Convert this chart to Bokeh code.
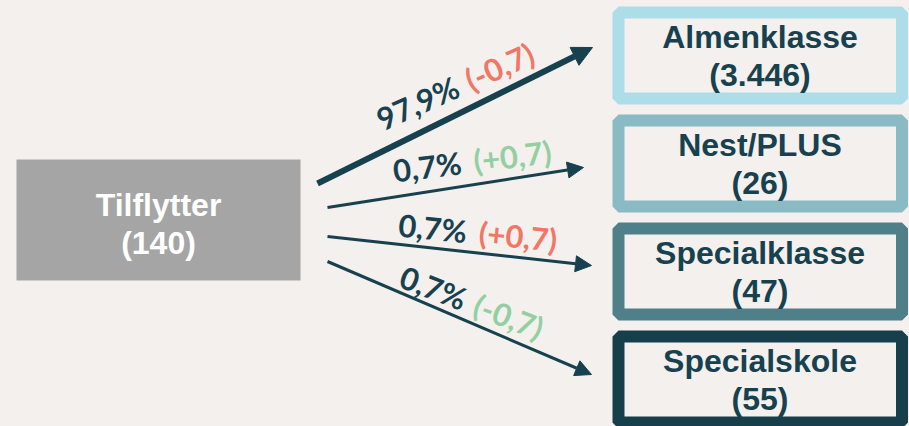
import math
from bokeh.plotting import figure
from bokeh.models import Range1d, Arrow, NormalHead
from bokeh.embed import file_html
from bokeh.resources import INLINE
from bokeh.core.properties import value

# ---------------- data ----------------
source_name = "Tilflytter"
source_count = "140"
targets = ["Almenklasse", "Nest/PLUS", "Specialklasse", "Specialskole"]
target_counts = ["3.446", "26", "47", "55"]
shares = ["97,9%", "0,7%", "0,7%", "0,7%"]
changes = ["(-0,7)", "(+0,7)", "(+0,7)", "(-0,7)"]

# ---------------- styles / layout ----------------
BG = "#f3f0ed"
DARK = "#17414e"
RED = "#f07666"
GREEN = "#93cfa0"
SRC_FILL = "#a5a5a5"
box_colors = ["#acdde8", "#8abac4", "#4f7f89", "#163f4b"]
change_colors = [RED, GREEN, RED, GREEN]

arrow_start = [(317, 183), (327, 207), (327, 236), (327, 261)]
arrow_end = [(592, 47), (583, 167), (591, 265), (591, 374)]
arrow_width = [6, 3, 3, 3]
head_size = [20, 16, 16, 16]

label_start = [(382, 130), (394, 181), (397, 235), (397, 285)]
label_angle_deg = [24, 7, -5.5, -21]
label_gap = [97, 81, 81, 79]
SHIFT = 11  # baseline correction (px)

W, H = 909, 426
p = figure(width=W, height=H, x_range=Range1d(0, W), y_range=Range1d(H, 0),
           output_backend="svg", toolbar_location=None, min_border=0,
           min_border_left=0, min_border_right=0, min_border_top=0, min_border_bottom=0)
p.axis.visible = False
p.grid.visible = False
p.outline_line_color = None
p.background_fill_color = BG
p.border_fill_color = BG

FONT_BOX = value("Liberation Sans")
FONT_LBL = value("Lato")

# source box
p.quad(left=[16], right=[300], top=[159], bottom=[280], fill_color=SRC_FILL, line_color=None)
p.text(x=[158, 158], y=[215 - SHIFT, 253 - SHIFT], text=[source_name, "(" + source_count + ")"],
       text_font=FONT_BOX, text_font_style="bold", text_font_size="32px",
       text_color="white", text_align="center", text_baseline="alphabetic")

# target boxes
for i, (name, cnt) in enumerate(zip(targets, target_counts)):
    top = 6 + 108 * i
    p.quad(left=[618], right=[901.5], top=[top + 6], bottom=[top + 92],
           fill_color=BG, line_color=box_colors[i], line_width=12)
    p.text(x=[759.5, 759.5], y=[top + 41 - SHIFT, top + 79 - SHIFT], text=[name, "(" + cnt + ")"],
           text_font=FONT_BOX, text_font_style="bold", text_font_size="32px",
           text_color=DARK, text_align="center", text_baseline="alphabetic")

# arrows
for i in range(4):
    (xs, ys), (xe, ye) = arrow_start[i], arrow_end[i]
    p.add_layout(Arrow(end=NormalHead(size=head_size[i], fill_color=DARK, line_color=DARK, line_width=1),
                       x_start=xs, y_start=ys, x_end=xe, y_end=ye,
                       line_width=arrow_width[i], line_color=DARK))

# labels
for i in range(4):
    a = math.radians(label_angle_deg[i])
    x0, y0 = label_start[i]
    x0 -= SHIFT * math.sin(a)
    y0 -= SHIFT * math.cos(a)
    x1 = x0 + label_gap[i] * math.cos(a)
    y1 = y0 - label_gap[i] * math.sin(a)
    p.text(x=[x0], y=[y0], text=[shares[i]], angle=a,
           text_font=FONT_LBL, text_font_style="bold", text_font_size="31px",
           text_color=DARK, text_align="left", text_baseline="alphabetic")
    p.text(x=[x1], y=[y1], text=[changes[i]], angle=a,
           text_font=FONT_LBL, text_font_style="bold", text_font_size="31px",
           text_color=change_colors[i], text_align="left", text_baseline="alphabetic")

html = file_html(p, INLINE)
html = html.replace("<head>", "<head><style>body{background:%s;}</style>" % BG, 1)
open("out.html", "w").write(html)
